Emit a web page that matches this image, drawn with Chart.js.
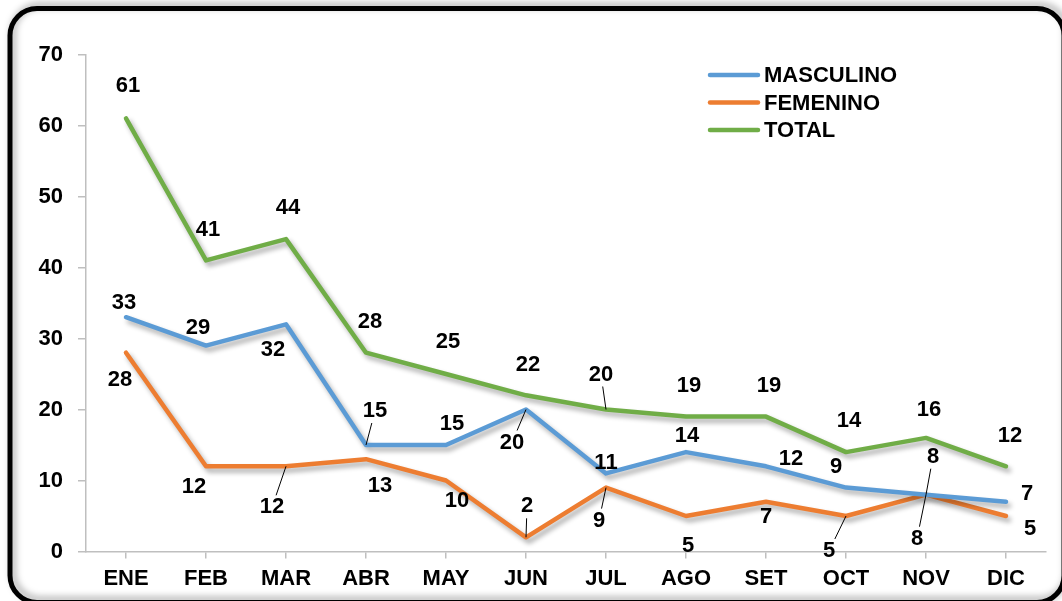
<!DOCTYPE html>
<html>
<head>
<meta charset="utf-8">
<script src="https://cdn.jsdelivr.net/npm/chart.js@4.4.0/dist/chart.umd.min.js"></script>
<style>
  html, body { margin: 0; padding: 0; background: #fff; }
  #wrap { width: 1062px; height: 601px; }
</style>
</head>
<body>
<div id="wrap"><canvas id="chart" width="1062" height="601"></canvas></div>
<script>
const months = ['ENE', 'FEB', 'MAR', 'ABR', 'MAY', 'JUN', 'JUL', 'AGO', 'SET', 'OCT', 'NOV', 'DIC']
const masculino = [33, 29, 32, 15, 15, 20, 11, 14, 12, 9, 8, 7]
const femenino = [28, 12, 12, 13, 10, 2, 9, 5, 7, 5, 8, 5]
const total = [61, 41, 44, 28, 25, 22, 20, 19, 19, 14, 16, 12]
const yTicks = [0, 10, 20, 30, 40, 50, 60, 70]

// where each value label sits, relative to its point (dx, dy), and if it has a leader line
const totalLabelPos = [[2,-32],[2,-30],[2,-31],[4,-31],[2,-32],[2,-30],[-5,-35],[3,-31],[3,-31],[3,-31],[3,-28],[4,-30]]
const mascLabelPos = [[-2,-14],[-8,-18],[-13,26],[9,-34],[6,-21],[-14,33],[0,-10],[1,-16],[25,-7],[-10,-21],[7,-38],[21,-8]]
const femLabelPos = [[-6,27],[-12,21],[-14,41],[14,27],[11,20],[1,-31],[-7,33],[2,30],[0,15],[-17,35],[-9,44],[24,13]]
const totalLeader = [6]
const mascLeader = [3, 5, 10]
const femLeader = [2, 5, 6, 9, 10]

const fontFamily = "Arial, 'Liberation Sans', sans-serif"
const blue = '#5B9BD5'
const orange = '#ED7D31'
const green = '#70AD47'
const axisGray = '#BFBFBF'

const framePlugin = {
    id: 'frame',
    beforeDraw(chart) {
        const ctx = chart.ctx
        ctx.save()
        ctx.fillStyle = '#fff'
        ctx.fillRect(0, 0, chart.width, chart.height)
        ctx.shadowColor = 'rgba(0,0,0,0.35)'
        ctx.shadowBlur = 7
        ctx.shadowOffsetX = 3
        ctx.shadowOffsetY = -3
        ctx.strokeStyle = '#000'
        ctx.lineWidth = 5
        ctx.beginPath()
        ctx.roundRect(10, 8.5, 1054, 594, 27)
        ctx.stroke()
        ctx.restore()
    }
}

const shadowPlugin = {
    id: 'lineShadow',
    beforeDatasetDraw(chart) {
        const ctx = chart.ctx
        ctx.save()
        ctx.shadowColor = 'rgba(0,0,0,0.33)'
        ctx.shadowBlur = 5
        ctx.shadowOffsetX = 3
        ctx.shadowOffsetY = 4
    },
    afterDatasetDraw(chart) {
        chart.ctx.restore()
    }
}

const labelPlugin = {
    id: 'valueLabels',
    afterDatasetsDraw(chart) {
        const ctx = chart.ctx
        const positions = [mascLabelPos, femLabelPos, totalLabelPos]
        const leaders = [mascLeader, femLeader, totalLeader]
        ctx.save()
        ctx.font = 'bold 22px ' + fontFamily
        ctx.textAlign = 'center'
        ctx.textBaseline = 'middle'
        chart.data.datasets.forEach((ds, d) => {
            const meta = chart.getDatasetMeta(d)
            meta.data.forEach((pt, i) => {
                const text = String(ds.data[i])
                const lx = pt.x + positions[d][i][0]
                const ly = pt.y + positions[d][i][1]
                if (leaders[d].includes(i)) {
                    const dx = pt.x - lx
                    const dy = pt.y - ly
                    const halfW = ctx.measureText(text).width / 2 + 3
                    const t = Math.min(dx == 0 ? 99 : halfW / Math.abs(dx), dy == 0 ? 99 : 12 / Math.abs(dy))
                    ctx.strokeStyle = '#000'
                    ctx.lineWidth = 1
                    ctx.beginPath()
                    ctx.moveTo(lx + dx * t, ly + dy * t)
                    ctx.lineTo(pt.x, pt.y)
                    ctx.stroke()
                }
                ctx.fillStyle = '#000'
                ctx.fillText(text, lx, ly)
            })
        })

        // legend
        ctx.textAlign = 'left'
        ctx.lineCap = 'round'
        ctx.lineWidth = 4.5
        chart.data.datasets.forEach((ds, d) => {
            const y = 75 + d * 27.5
            ctx.strokeStyle = ds.borderColor
            ctx.beginPath()
            ctx.moveTo(710, y)
            ctx.lineTo(758, y)
            ctx.stroke()
            ctx.fillStyle = '#000'
            ctx.fillText(ds.label, 764, y + 1)
        })
        ctx.restore()
    }
}

const tickFont = { family: fontFamily, size: 22, weight: 'bold' }

const config = {
    type: 'line',
    data: {
        labels: months,
        datasets: [
            { label: 'MASCULINO', data: masculino, borderColor: blue, backgroundColor: blue },
            { label: 'FEMENINO', data: femenino, borderColor: orange, backgroundColor: orange },
            { label: 'TOTAL', data: total, borderColor: green, backgroundColor: green }
        ]
    },
    options: {
        responsive: false,
        animation: false,
        devicePixelRatio: 1,
        layout: { padding: { left: 10, right: 16, top: 54.5, bottom: 0 } },
        elements: {
            line: { borderWidth: 4.5, tension: 0, borderJoinStyle: 'round', borderCapStyle: 'round', fill: false },
            point: { radius: 0, hoverRadius: 0 }
        },
        plugins: {
            legend: { display: false },
            tooltip: { enabled: false },
            title: { display: false }
        },
        scales: {
            x: {
                offset: true,
                grid: { drawOnChartArea: false, drawTicks: true, tickLength: 7, color: axisGray, lineWidth: 1.5 },
                border: { color: axisGray, width: 1.5 },
                ticks: { color: '#000', font: tickFont, padding: 7, maxRotation: 0, autoSkip: false },
                afterFit: (scale) => { scale.height = 49.5 }
            },
            y: {
                min: 0,
                max: 70,
                afterBuildTicks: (scale) => { scale.ticks = yTicks.map(v => ({ value: v })) },
                grid: { drawOnChartArea: false, drawTicks: true, tickLength: 8, color: axisGray, lineWidth: 1.5 },
                border: { color: axisGray, width: 1.5 },
                ticks: { color: '#000', font: tickFont, padding: 15 },
                afterFit: (scale) => { scale.width = 76 }
            }
        }
    },
    plugins: [framePlugin, shadowPlugin, labelPlugin]
}

new Chart(document.getElementById('chart'), config)
</script>
</body>
</html>
